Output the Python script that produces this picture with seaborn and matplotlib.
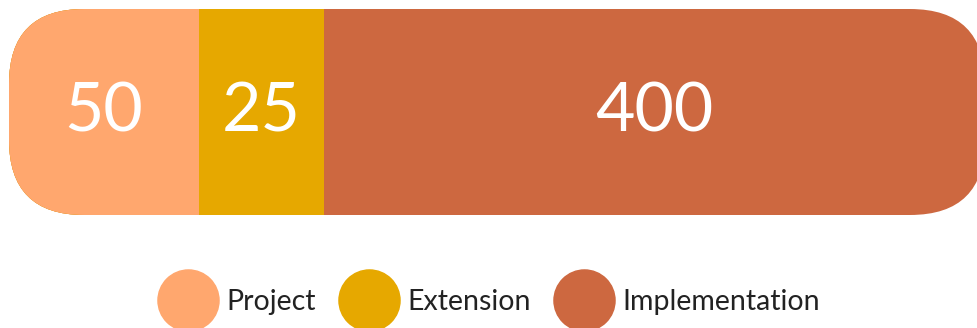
import numpy as np
import pandas as pd
import matplotlib.pyplot as plt
import seaborn as sns
from matplotlib.patches import FancyBboxPatch
from matplotlib.lines import Line2D
from matplotlib.transforms import IdentityTransform

# ### Data
phases = ["Project", "Extension", "Implementation"]
values = [50, 25, 400]
colors = ["#FFA76E", "#E6A800", "#CD6840"]

sns.set_theme(style="white")
plt.rcParams['font.family'] = ['Lato', 'DejaVu Sans']

# the original squeezes the long segment, bar length ~ value**0.6
lengths = np.array(values, dtype=float) ** 0.6
ends = np.cumsum(lengths)
starts = ends - lengths

fig = plt.figure(figsize=(9.78, 3.28), dpi=100)
ax = fig.add_axes([9/978, 113/328, 976/978, 206/328])

# stacked bar: draw cumulative totals, longest first
for i in reversed(range(len(values))):
    sns.barplot(x=[ends[i]], y=["all"], color=colors[i], saturation=1,
                width=1, orient="h", linewidth=0, ax=ax)

ax.set_xlim(0, ends[-1])
ax.set_ylim(0.5, -0.5)
ax.axis("off")

# rounded ends
bb = ax.get_window_extent()
pill = FancyBboxPatch((bb.x0, bb.y0), bb.width, bb.height,
                      boxstyle="round,pad=0,rounding_size=75",
                      transform=IdentityTransform(), facecolor="none", edgecolor="none")
for p in ax.patches:
    p.set_clip_path(pill)

for s, e, v in zip(starts, ends, values):
    ax.text((s + e) / 2, 0, str(v), ha="center", va="center",
            color="white", fontsize=49, fontweight="normal")

handles = [Line2D([], [], marker="o", linestyle="", markersize=44,
                  markerfacecolor=c, markeredgecolor=c) for c in colors]
fig.legend(handles, phases, loc="center", bbox_to_anchor=(0.5, 26/328), ncol=3,
           frameon=False, fontsize=20.5, handletextpad=0.3, columnspacing=0.8,
           handlelength=2.1, labelcolor="#222222")

plt.savefig("out.png", dpi=100)
